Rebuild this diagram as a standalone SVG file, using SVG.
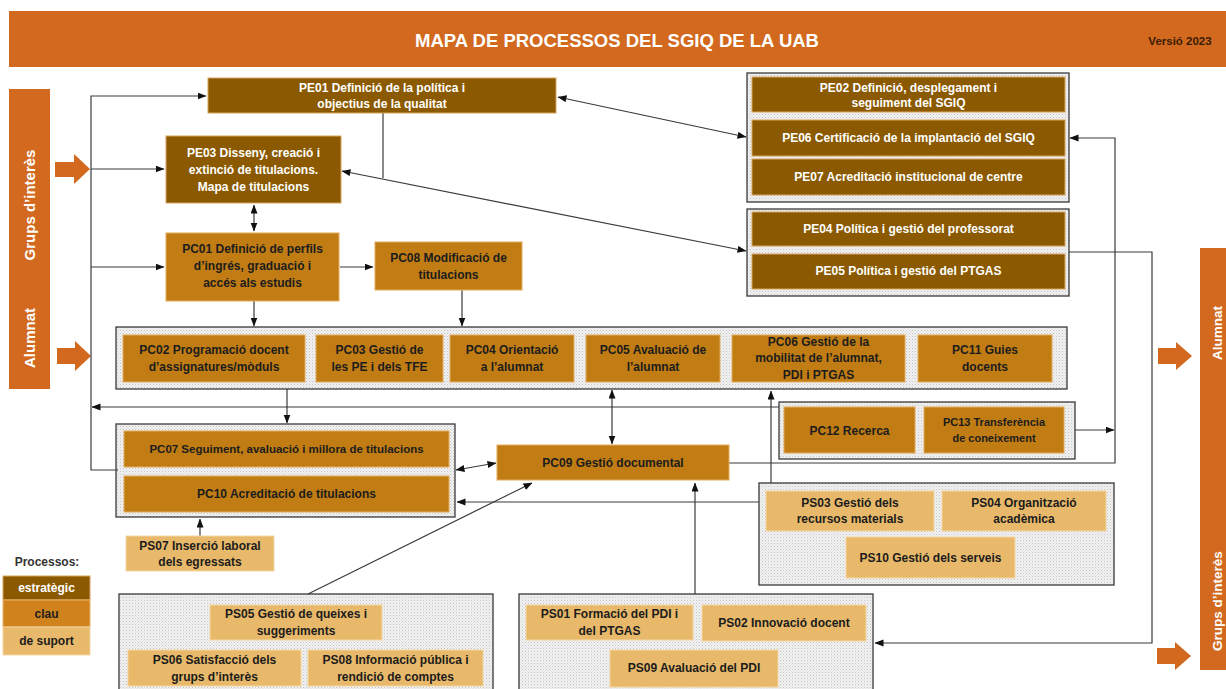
<svg xmlns="http://www.w3.org/2000/svg" width="1226" height="689" viewBox="0 0 1226 689">
<defs>
<pattern id="dots" width="3" height="3" patternUnits="userSpaceOnUse">
<rect width="3" height="3" fill="#f1f1f1"/>
<rect width="1" height="1" fill="#c4c4c4"/>
<rect x="1.5" y="1.5" width="1" height="1" fill="#d6d6d6"/>
</pattern>
<marker id="arr" markerWidth="9" markerHeight="8" refX="8.5" refY="3.5" orient="auto-start-reverse" markerUnits="userSpaceOnUse">
<path d="M0,0 L9,3.5 L0,7 z" fill="#111"/>
</marker>
<style>
.pe{fill:#8B5A00;stroke:#D9A35E;stroke-width:1}
.pc{fill:#C17C14;stroke:#E3AC5C;stroke-width:1}
.ps{fill:#E8B96A;stroke:#F4D6A2;stroke-width:1}
.panel{fill:url(#dots);stroke:#3a3a3a;stroke-width:1.3}
.orange{fill:#D2691E}
text{font-family:"Liberation Sans",Arial,sans-serif;font-weight:bold;text-anchor:middle}
.tw{fill:#fff;font-size:12px}
.td{fill:#1c1c1c;font-size:12px}
.conn{stroke:#3a3a3a;stroke-width:1.2;fill:none}
.bar{fill:#fff;font-size:15px}
.rbar{fill:#fff;font-size:13.5px}
</style>
</defs>

<g id="header">
<rect class="orange" x="9" y="11" width="1230" height="56"/>
<text x="617" y="47" style="fill:#fff;font-size:18.5px">MAPA DE PROCESSOS DEL SGIQ DE LA UAB</text>
<text x="1180" y="45" style="fill:#3a1c05;font-size:11.5px">Versió 2023</text>
</g>

<g id="left-bar">
<rect class="orange" x="9" y="89" width="41" height="300"/>
<text class="bar" transform="translate(35,205) rotate(-90)">Grups d’interès</text>
<text class="bar" transform="translate(35,338) rotate(-90)">Alumnat</text>
<polygon class="orange" points="55,162 74,162 74,154 90,169 74,184 74,177 55,177"/>
<polygon class="orange" points="57,348 75,348 75,341 91,356 75,371 75,364 57,364"/>
</g>

<g id="right-bar">
<rect class="orange" x="1200" y="248" width="41" height="422"/>
<text class="rbar" transform="translate(1222,333) rotate(-90)">Alumnat</text>
<text class="rbar" transform="translate(1222,601) rotate(-90)">Grups d’interès</text>
<polygon class="orange" points="1158,348 1176,348 1176,342 1192,356 1176,370 1176,364 1158,364"/>
<polygon class="orange" points="1157,648 1175,648 1175,642 1191,656 1175,670 1175,664 1157,664"/>
</g>

<g id="panels">
<rect class="panel" x="747" y="73" width="322" height="129"/>
<rect class="panel" x="747" y="209" width="322" height="87"/>
<rect class="panel" x="116" y="327" width="951" height="62"/>
<rect class="panel" x="779" y="402" width="296" height="57"/>
<rect class="panel" x="116" y="424" width="339" height="93"/>
<rect class="panel" x="759" y="483" width="355" height="102"/>
<rect class="panel" x="119" y="594" width="374" height="110"/>
<rect class="panel" x="519" y="594" width="354" height="110"/>
</g>

<g id="connectors">
<path class="conn" d="M118,470 H91 V96 H206" marker-end="url(#arr)"/>
<path class="conn" d="M91,169 H164" marker-end="url(#arr)"/>
<path class="conn" d="M91,267 H164" marker-end="url(#arr)"/>
<path class="conn" d="M779,407 H92" marker-end="url(#arr)"/>
<path class="conn" d="M558,97 L746,137" marker-start="url(#arr)" marker-end="url(#arr)"/>
<path class="conn" d="M342,171 L746,251" marker-start="url(#arr)" marker-end="url(#arr)"/>
<path class="conn" d="M383,113 V178"/>
<path class="conn" d="M254,205 V231" marker-start="url(#arr)" marker-end="url(#arr)"/>
<path class="conn" d="M340,267 H373" marker-end="url(#arr)"/>
<path class="conn" d="M254,301 V326" marker-end="url(#arr)"/>
<path class="conn" d="M462,290 V326" marker-end="url(#arr)"/>
<path class="conn" d="M287,389 V423" marker-end="url(#arr)"/>
<path class="conn" d="M612,390 V444" marker-start="url(#arr)" marker-end="url(#arr)"/>
<path class="conn" d="M771,483 V391" marker-end="url(#arr)"/>
<path class="conn" d="M729,463 H1115 V138 H1070" marker-end="url(#arr)"/>
<path class="conn" d="M1075,430 H1114" marker-end="url(#arr)"/>
<path class="conn" d="M1069,252 H1152 V643 H875" marker-end="url(#arr)"/>
<path class="conn" d="M456,470 L496,463" marker-start="url(#arr)" marker-end="url(#arr)"/>
<path class="conn" d="M308,594 L532,483" marker-end="url(#arr)"/>
<path class="conn" d="M695,594 V483" marker-end="url(#arr)"/>
<path class="conn" d="M759,502 H457" marker-end="url(#arr)"/>
<path class="conn" d="M200,536 V519" marker-end="url(#arr)"/>
</g>

<g id="PE01"><rect class="pe" x="208" y="78" width="348" height="35"/>
<text class="tw" x="382" y="92">PE01 Definició de la política i</text>
<text class="tw" x="382" y="108">objectius de la qualitat</text></g>

<g id="PE03"><rect class="pe" x="166" y="136" width="175" height="67"/>
<text class="tw" x="253.5" y="157">PE03 Disseny, creació i</text>
<text class="tw" x="253.5" y="174">extinció de titulacions.</text>
<text class="tw" x="253.5" y="191">Mapa de titulacions</text></g>

<g id="PE02"><rect class="pe" x="752" y="77" width="313" height="35"/>
<text class="tw" x="908.5" y="92">PE02 Definició, desplegament i</text>
<text class="tw" x="908.5" y="107">seguiment del SGIQ</text></g>

<g id="PE06"><rect class="pe" x="752" y="120" width="313" height="36"/>
<text class="tw" x="908.5" y="142">PE06 Certificació de la implantació del SGIQ</text></g>

<g id="PE07"><rect class="pe" x="752" y="159" width="313" height="36"/>
<text class="tw" x="908.5" y="181">PE07 Acreditació institucional de centre</text></g>

<g id="PE04"><rect class="pe" x="752" y="212" width="313" height="34"/>
<text class="tw" x="908.5" y="233">PE04 Política i gestió del professorat</text></g>

<g id="PE05"><rect class="pe" x="752" y="254" width="313" height="35"/>
<text class="tw" x="908.5" y="275">PE05 Política i gestió del PTGAS</text></g>

<g id="PC01"><rect class="pc" x="166" y="233" width="173" height="68"/>
<text class="td" x="252.5" y="253">PC01 Definició de perfils</text>
<text class="td" x="252.5" y="270">d’ingrés, graduació i</text>
<text class="td" x="252.5" y="287">accés als estudis</text></g>

<g id="PC08"><rect class="pc" x="375" y="242" width="147" height="48"/>
<text class="td" x="448.5" y="262">PC08 Modificació de</text>
<text class="td" x="448.5" y="279">titulacions</text></g>

<g id="PC02"><rect class="pc" x="123" y="335" width="182" height="47"/>
<text class="td" x="214" y="354">PC02 Programació docent</text>
<text class="td" x="214" y="371">d’assignatures/mòduls</text></g>

<g id="PC03"><rect class="pc" x="316" y="335" width="127" height="47"/>
<text class="td" x="379.5" y="354">PC03 Gestió de</text>
<text class="td" x="379.5" y="371">les PE i dels TFE</text></g>

<g id="PC04"><rect class="pc" x="450" y="335" width="124" height="47"/>
<text class="td" x="512" y="354">PC04 Orientació</text>
<text class="td" x="512" y="371">a l’alumnat</text></g>

<g id="PC05"><rect class="pc" x="586" y="335" width="134" height="47"/>
<text class="td" x="653" y="354">PC05 Avaluació de</text>
<text class="td" x="653" y="371">l’alumnat</text></g>

<g id="PC06"><rect class="pc" x="732" y="335" width="173" height="47"/>
<text class="td" x="818.5" y="346">PC06 Gestió de la</text>
<text class="td" x="818.5" y="362">mobilitat de l’alumnat,</text>
<text class="td" x="818.5" y="379">PDI i PTGAS</text></g>

<g id="PC11"><rect class="pc" x="918" y="335" width="134" height="47"/>
<text class="td" x="985" y="354">PC11 Guies</text>
<text class="td" x="985" y="371">docents</text></g>

<g id="PC12"><rect class="pc" x="784" y="407" width="131" height="46"/>
<text class="td" x="849.5" y="435">PC12 Recerca</text></g>

<g id="PC13"><rect class="pc" x="924" y="407" width="140" height="46"/>
<text class="td" x="994" y="426" style="font-size:11px">PC13 Transferència</text>
<text class="td" x="994" y="442" style="font-size:11px">de coneixement</text></g>

<g id="PC07"><rect class="pc" x="124" y="431" width="325" height="36"/>
<text class="td" x="286.5" y="453" style="font-size:11.5px">PC07 Seguiment, avaluació i millora de titulacions</text></g>

<g id="PC10"><rect class="pc" x="124" y="476" width="325" height="36"/>
<text class="td" x="286.5" y="498">PC10 Acreditació de titulacions</text></g>

<g id="PC09"><rect class="pc" x="497" y="445" width="232" height="35"/>
<text class="td" x="613" y="467">PC09 Gestió documental</text></g>

<g id="PS03"><rect class="ps" x="766" y="491" width="168" height="40"/>
<text class="td" x="850" y="507">PS03 Gestió dels</text>
<text class="td" x="850" y="523">recursos materials</text></g>

<g id="PS04"><rect class="ps" x="942" y="491" width="164" height="40"/>
<text class="td" x="1024" y="507">PS04 Organització</text>
<text class="td" x="1024" y="523">acadèmica</text></g>

<g id="PS10"><rect class="ps" x="846" y="537" width="169" height="41"/>
<text class="td" x="930.5" y="562">PS10 Gestió dels serveis</text></g>

<g id="PS07"><rect class="ps" x="126" y="536" width="148" height="35"/>
<text class="td" x="200" y="550">PS07 Inserció laboral</text>
<text class="td" x="200" y="566">dels egressats</text></g>

<g id="PS05"><rect class="ps" x="210" y="605" width="172" height="35"/>
<text class="td" x="296" y="618">PS05 Gestió de queixes i</text>
<text class="td" x="296" y="635">suggeriments</text></g>

<g id="PS06"><rect class="ps" x="128" y="650" width="173" height="36"/>
<text class="td" x="214.5" y="664">PS06 Satisfacció dels</text>
<text class="td" x="214.5" y="681">grups d’interès</text></g>

<g id="PS08"><rect class="ps" x="308" y="650" width="175" height="36"/>
<text class="td" x="395.5" y="664">PS08 Informació pública i</text>
<text class="td" x="395.5" y="681">rendició de comptes</text></g>

<g id="PS01"><rect class="ps" x="526" y="605" width="167" height="35"/>
<text class="td" x="609.5" y="618">PS01 Formació del PDI i</text>
<text class="td" x="609.5" y="635">del PTGAS</text></g>

<g id="PS02"><rect class="ps" x="702" y="605" width="164" height="36"/>
<text class="td" x="784" y="627">PS02 Innovació docent</text></g>

<g id="PS09"><rect class="ps" x="610" y="650" width="168" height="37"/>
<text class="td" x="694" y="672">PS09 Avaluació del PDI</text></g>

<g id="legend">
<text x="47" y="566" style="fill:#333;font-size:12px">Processos:</text>
<rect class="pe" x="3" y="576" width="87" height="24"/>
<text class="tw" x="46.5" y="592">estratègic</text>
<rect x="3" y="600" width="87" height="27" style="fill:#D0821C;stroke:#E8B46A;stroke-width:1"/>
<text class="td" x="46.5" y="618">clau</text>
<rect class="ps" x="3" y="627" width="87" height="28"/>
<text class="td" x="46.5" y="645">de suport</text>
</g>
</svg>
